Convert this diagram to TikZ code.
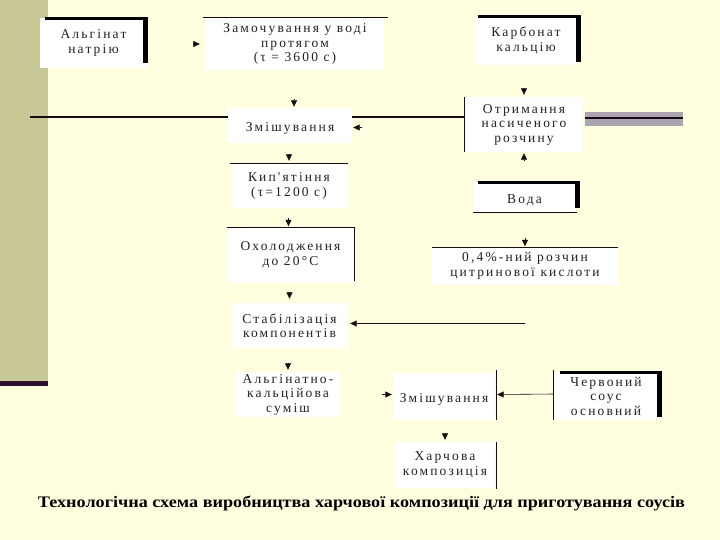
\documentclass[tikz,border=0pt]{standalone}
\usepackage{fontspec}
\setmainfont{Liberation Serif}
\newfontfamily\boxfont[LetterSpace=16]{Liberation Serif}
\usetikzlibrary{arrows.meta}
\definecolor{bgy}{HTML}{FFFFE0}
\definecolor{khaki}{HTML}{C8C896}
\definecolor{plum}{HTML}{2E0E2E}
\definecolor{grayb}{HTML}{AAA4AE}
\definecolor{ink}{HTML}{1A0A14}
\definecolor{txt}{HTML}{222222}
\begin{document}
\begin{tikzpicture}[x=1pt,y=-1pt,
  wbox/.style={fill=white, inner sep=0pt, text=txt,
    font=\boxfont\fontsize{13.5}{14.5}\selectfont, align=center,
    execute at begin node={\rule{0pt}{15pt}}},
  tip/.style={-{Triangle[length=6.5pt,width=6pt]}, line width=0.6pt, ink},
  thinb/.style={line width=1pt, ink},
  thickt/.style={line width=3pt, black},
  thickr/.style={line width=5pt, black}]
\fill[bgy] (0,0) rectangle (720,540);
\useasboundingbox (0,0) rectangle (720,540);
% slide decorations
\fill[khaki] (0,0) rectangle (48,381);
\fill[plum] (0,381) rectangle (48,386);
\fill[grayb] (585,112) rectangle (683,126);
\draw[ink, line width=2pt] (585,118) -- (683,118);

% boxes
\node[wbox, minimum width=107pt, minimum height=50pt] (alg) at (93.5,43) {Альгінат\\натрію};
\node[wbox, minimum width=178pt, minimum height=52pt] (zam) at (295,44) {Замочування у воді\\протягом\\(τ = 3600 с)};
\node[wbox, minimum width=102pt, minimum height=49pt] (kar) at (526,40.5) {Карбонат\\кальцію};
\node[wbox, minimum width=124pt, minimum height=35pt] (zm1) at (290,125.5) {Змішування};
\node[wbox, minimum width=118pt, minimum height=55pt] (otr) at (524,124.5) {Отримання\\насиченого\\розчину};
\node[wbox, minimum width=116pt, minimum height=44pt] (kip) at (289,186) {Кип'ятіння\\(τ=1200 с)};
\node[wbox, minimum width=103pt, minimum height=30pt] (voda) at (524.5,197) {Вода};
\node[wbox, minimum width=127pt, minimum height=55pt] (oho) at (290.5,255) {Охолодження\\до 20°С};
\node[wbox, minimum width=186pt, minimum height=37pt] (roz) at (525,266) {0,4\%-ний розчин\\цитринової кислоти};
\node[wbox, minimum width=115pt, minimum height=45pt] (stab) at (289.5,325.5) {Стабілізація\\компонентів};
\node[wbox, minimum width=104pt, minimum height=45pt] (sum) at (288,394.5) {Альгінатно-\\кальційова\\суміш};
\node[wbox, minimum width=102pt, minimum height=47pt] (zm2) at (444,396.5) {Змішування};
\node[wbox, minimum width=104pt, minimum height=48pt] (cher) at (606,396) {Червоний\\соус\\основний};
\node[wbox, minimum width=100pt, minimum height=46pt] (har) at (445,465) {Харчова\\композиція};

% box borders
\draw[thickt] ([xshift=5pt,yshift=-0.5pt]alg.north west) -- ([xshift=1pt,yshift=-0.5pt]alg.north east);
\draw[thickr] ([xshift=-1.5pt,yshift=1pt]alg.north east) -- ([xshift=-1.5pt,yshift=5pt]alg.south east);
\draw[thinb] ([xshift=-3pt]zam.north west) -- ([xshift=4pt]zam.north east);
\draw[thickt] ([xshift=3pt,yshift=-0.5pt]kar.north west) -- ([xshift=3pt,yshift=-0.5pt]kar.north east);
\draw[thickr] ([xshift=1.5pt,yshift=1pt]kar.north east) -- ([xshift=1.5pt,yshift=3pt]kar.south east);
\draw[thinb] (otr.north west) -- (otr.south west);
\draw[thinb] ([xshift=-1pt]kip.north west) -- ([xshift=1pt]kip.north east);
\draw[thinb] (oho.north west) -- ([xshift=1pt]oho.north east);
\draw[thinb] (oho.north east) -- ([yshift=2pt]oho.south east);
\draw[thickt] ([xshift=5pt,yshift=-1pt]voda.north west) -- ([xshift=4pt,yshift=-1pt]voda.north east);
\draw[thickr] ([xshift=1.5pt]voda.north east) -- ([xshift=1.5pt,yshift=4pt]voda.south east);
\draw[thinb] (voda.south west) -- ([xshift=1pt]voda.south east);
\draw[thinb] (roz.north west) -- (roz.north east);
\draw[thinb] ([xshift=1pt,yshift=3pt]zm2.north east) -- ([xshift=1pt]zm2.south east);
\draw[thickt] ([xshift=6pt,yshift=-1pt]cher.north west) -- ([xshift=4pt,yshift=-1pt]cher.north east);
\draw[thickr] ([xshift=1.5pt]cher.north east) -- ([xshift=1.5pt,yshift=3pt]cher.south east);
\draw[thinb] ([yshift=2pt]cher.north west) -- (cher.south west);
\draw[thinb] ([xshift=1pt]har.north east) -- ([xshift=1pt,yshift=-1pt]har.south east);

% long line
\coordinate (L0) at (30,117.5);
\draw[ink, line width=2pt] (L0) -- (L0 -| zm1.west);
\draw[ink, line width=2pt] (L0 -| zm1.east) -- (L0 -| otr.west);

% arrows
\draw[tip] ([xshift=-13pt]zam.west) -- ([xshift=-6pt]zam.west);
\draw[tip] ([xshift=4pt,yshift=9pt]zm1.north) -- ([xshift=4pt,yshift=1pt]zm1.north);
\draw[tip] ([xshift=10pt,yshift=-2pt]zm1.east) -- ([xshift=1pt,yshift=-2pt]zm1.east);
\draw[tip] ([yshift=9pt]otr.north) -- ([yshift=2pt]otr.north);
\draw[tip] ([yshift=-8pt]otr.south) -- ([yshift=-1pt]otr.south);
\draw[tip] ([yshift=9pt]kip.north) -- ([yshift=3pt]kip.north);
\draw[tip] ([xshift=-2pt,yshift=9pt]oho.north) -- ([xshift=-2pt,yshift=1pt]oho.north);
\draw[tip] ([yshift=9pt]roz.north) -- ([yshift=1pt]roz.north);
\draw[tip] ([yshift=11pt]stab.north) -- ([yshift=4pt]stab.north);
\coordinate (S0) at (525,323.5);
\draw[tip] (S0) -- ([xshift=3pt]stab.east |- S0);
\draw[tip] ([yshift=9pt]sum.north) -- ([yshift=2pt]sum.north);
\draw[tip] ([xshift=-11pt,yshift=2pt]zm2.west) -- ([xshift=-1pt,yshift=2pt]zm2.west);
\draw[tip] ([yshift=2pt]cher.west) -- ([xshift=2pt,yshift=2pt]zm2.east);
\draw[tip] ([yshift=9pt]har.north) -- ([yshift=2pt]har.north);

% caption
\node[inner sep=0pt, text=black] (cap) at (361.5,503)
  {\resizebox{647pt}{11.5pt}{\bfseries Технологічна схема виробництва харчової композиції для приготування соусів}};
\end{tikzpicture}
\end{document}
